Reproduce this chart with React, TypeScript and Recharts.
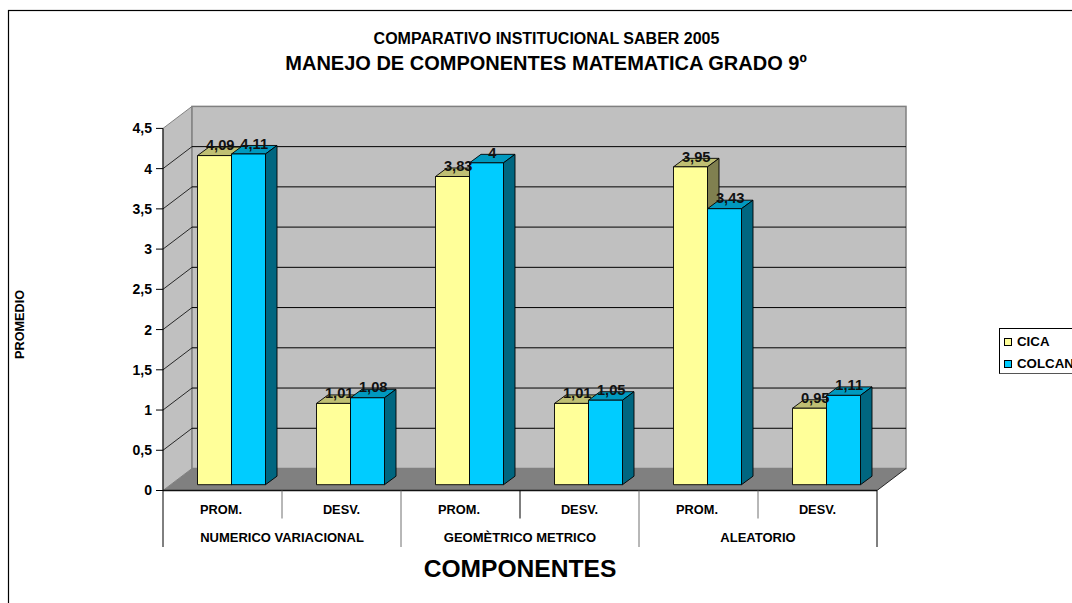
import React from "react";
import { BarChart, Bar, XAxis, YAxis, CartesianGrid, Legend, LabelList, ReferenceArea, Label } from "recharts";

const FONT = "'Liberation Sans', Arial, sans-serif";
const metrics = ["PROM.", "DESV.", "PROM.", "DESV.", "PROM.", "DESV."];
const groups = ["NUMERICO VARIACIONAL", "NUMERICO VARIACIONAL", "GEOMÈTRICO METRICO", "GEOMÈTRICO METRICO", "ALEATORIO", "ALEATORIO"];
const cica = [4.09, 1.01, 3.83, 1.01, 3.95, 0.95];
const colcan = [4.11, 1.08, 4, 1.05, 3.43, 1.11];
const yTicks = [0, 0.5, 1, 1.5, 2, 2.5, 3, 3.5, 4, 4.5];
const rows = metrics.map((m, i) => ({ id: i, metric: m, group: groups[i], cica: cica[i], colcan: colcan[i] }));

const WALL_DX = 29;
const WALL_DY = 22;
const BAR_DX = 8.5;
const BAR_DY = 5.8;
const DEPTH_X = 11.5;
const DEPTH_Y = 8.5;
const BAND = 119;

const comma = (v: number) => String(v).replace(".", ",");

function Wall(props: any) {
  const { x, y, width, height } = props;
  const b = y + height;
  const r = x + width;
  return (
    <g>
      <polygon points={`${x},${y} ${x + WALL_DX},${y - WALL_DY} ${x + WALL_DX},${b - WALL_DY} ${x},${b}`} fill="#C0C0C0" stroke="#808080" strokeWidth={1} />
      <rect x={x + WALL_DX} y={y - WALL_DY} width={width} height={height} fill="#C0C0C0" stroke="#808080" strokeWidth={1.5} />
      <polygon points={`${x},${b} ${r},${b} ${r + WALL_DX},${b - WALL_DY} ${x + WALL_DX},${b - WALL_DY}`} fill="#808080" />
      <line x1={r} y1={b} x2={r + WALL_DX} y2={b - WALL_DY} stroke="#000" strokeWidth={0.8} />
    </g>
  );
}

function GridLine(props: any) {
  const { x1, y1, x2, y2 } = props;
  if (y1 > 480 || y1 < 135) return <g />;
  return (
    <g>
      <line x1={x1} y1={y1} x2={x1 + WALL_DX} y2={y1 - WALL_DY} stroke="#000" strokeWidth={0.8} />
      <line x1={x1 + WALL_DX} y1={y2 - WALL_DY} x2={x2 + WALL_DX} y2={y2 - WALL_DY} stroke="#000" strokeWidth={1} />
    </g>
  );
}

function Bar3D(props: any) {
  const { x, y, width, height, fill, topFill, sideFill } = props;
  const l = x + BAR_DX;
  const t = y - BAR_DY;
  const r = l + width;
  const b = t + height;
  return (
    <g stroke="#000" strokeWidth={0.9} strokeLinejoin="round">
      <polygon points={`${l},${t} ${l + DEPTH_X},${t - DEPTH_Y} ${r + DEPTH_X},${t - DEPTH_Y} ${r},${t}`} fill={topFill} />
      <polygon points={`${r},${t} ${r + DEPTH_X},${t - DEPTH_Y} ${r + DEPTH_X},${b - DEPTH_Y} ${r},${b}`} fill={sideFill} />
      <rect x={l} y={t} width={width} height={height} fill={fill} />
    </g>
  );
}

function BarLabel(props: any) {
  const { x, y, width, value } = props;
  return (
    <text x={x + width / 2 + BAR_DX + DEPTH_X / 2} y={y - BAR_DY - 5.3} textAnchor="middle" fontFamily={FONT} fontSize={14.7} fontWeight={700} fill="#111">
      {comma(value)}
    </text>
  );
}

function MetricTick(props: any) {
  const { x, y, payload } = props;
  const r = x + BAND / 2;
  const isGroupEdge = payload.index % 2 === 1;
  return (
    <g>
      <text x={isGroupEdge ? x : x - 1.5} y={y + 15} textAnchor="middle" fontFamily={FONT} fontSize={12.8} fontWeight={700} fill="#000">
        {payload.value}
      </text>
      {!isGroupEdge && <line x1={r} y1={y - 8} x2={r} y2={y + 20} stroke={payload.index === 2 ? "#000" : "#707070"} strokeWidth={1} />}
    </g>
  );
}

function GroupTick(props: any) {
  const { x, y, payload } = props;
  const half = BAND;
  const edge = payload.index === 2 ? "#000" : "#707070";
  return (
    <g>
      <text x={x} y={y + 15} textAnchor="middle" fontFamily={FONT} fontSize={13} fontWeight={700} fill="#000">
        {payload.value}
      </text>
      <line x1={x + half} y1={y - 36} x2={x + half} y2={y + 20.5} stroke={edge} strokeWidth={1} />
      {payload.index === 0 && <line x1={x - half} y1={y - 36} x2={x - half} y2={y + 20.5} stroke="#000" strokeWidth={1} />}
    </g>
  );
}

function LegendBox(props: any) {
  const items = props.payload || [];
  return (
    <div style={{ border: "1px solid #000", borderBottomColor: "#555", background: "#fff", padding: "1.5px 0 0 4px", width: 120, height: 46, fontFamily: FONT, fontSize: 13.3, fontWeight: 700, lineHeight: "22.5px", boxSizing: "border-box" }}>
      {items.map((it: any) => (
        <div key={it.value} style={{ display: "flex", alignItems: "center", whiteSpace: "nowrap" }}>
          <span style={{ display: "inline-block", width: 8, height: 8, boxSizing: "border-box", background: it.color, border: "1px solid #000", marginRight: 5 }} />
          <span>{it.value}</span>
        </div>
      ))}
    </div>
  );
}

export default function App() {
  return (
    <div style={{ position: "absolute", left: 0, top: 0, width: 1072, height: 603, overflow: "hidden", background: "#fff" }}>
      <BarChart width={1072} height={603} data={rows} margin={{ top: 128.4, right: 195, bottom: 55.5, left: 103 }} barGap={0} barSize={34}>
        <rect x={8.5} y={10.5} width={3000} height={3000} fill="none" stroke="#000" strokeWidth={1.2} />
        <text x={546.5} y={44} textAnchor="middle" fontFamily={FONT} fontSize={16} fontWeight={700}>COMPARATIVO INSTITUCIONAL SABER 2005</text>
        <text x={546} y={70} textAnchor="middle" fontFamily={FONT} fontSize={20} fontWeight={700}>MANEJO DE COMPONENTES MATEMATICA GRADO 9º</text>
        <ReferenceArea y1={0} y2={4.5} shape={<Wall />} ifOverflow="visible" zIndex={-200} />
        <CartesianGrid vertical={false} horizontal={<GridLine />} />
        <XAxis dataKey="metric" height={28} tickLine={false} axisLine={{ stroke: "#111", strokeWidth: 1.5 }} tick={<MetricTick />} interval={0} />
        <XAxis xAxisId="group" dataKey="group" allowDuplicatedCategory={false} height={29} tickLine={false} axisLine={false} tick={<GroupTick />} interval={0}>
          <Label value="COMPONENTES" position="insideBottom" dy={34} fontFamily={FONT} fontSize={24.6} fontWeight={700} fill="#000" />
        </XAxis>
        <YAxis domain={[0, 4.5]} ticks={yTicks} width={60} tickFormatter={comma} axisLine={{ stroke: "#000" }} tickLine={{ stroke: "#000" }} tickSize={7} tick={{ fontFamily: FONT, fontSize: 14, fontWeight: 700, fill: "#000", dx: -2 }}>
          <Label value="PROMEDIO" angle={-90} position="center" dx={-114} dy={15} fontFamily={FONT} fontSize={12.7} fontWeight={700} fill="#000" />
        </YAxis>
        <Legend layout="vertical" align="center" verticalAlign="middle" content={<LegendBox />} wrapperStyle={{ left: 999, top: 328, width: 120, height: 46 }} />
        <Bar dataKey="cica" name="CICA" fill="#FFFF99" isAnimationActive={false} shape={<Bar3D topFill="#BFBF73" sideFill="#808050" />}>
          <LabelList dataKey="cica" content={<BarLabel />} />
        </Bar>
        <Bar dataKey="colcan" name="COLCAN" fill="#00CCFF" isAnimationActive={false} shape={<Bar3D topFill="#0099BF" sideFill="#006680" />}>
          <LabelList dataKey="colcan" content={<BarLabel />} />
        </Bar>
      </BarChart>
    </div>
  );
}
